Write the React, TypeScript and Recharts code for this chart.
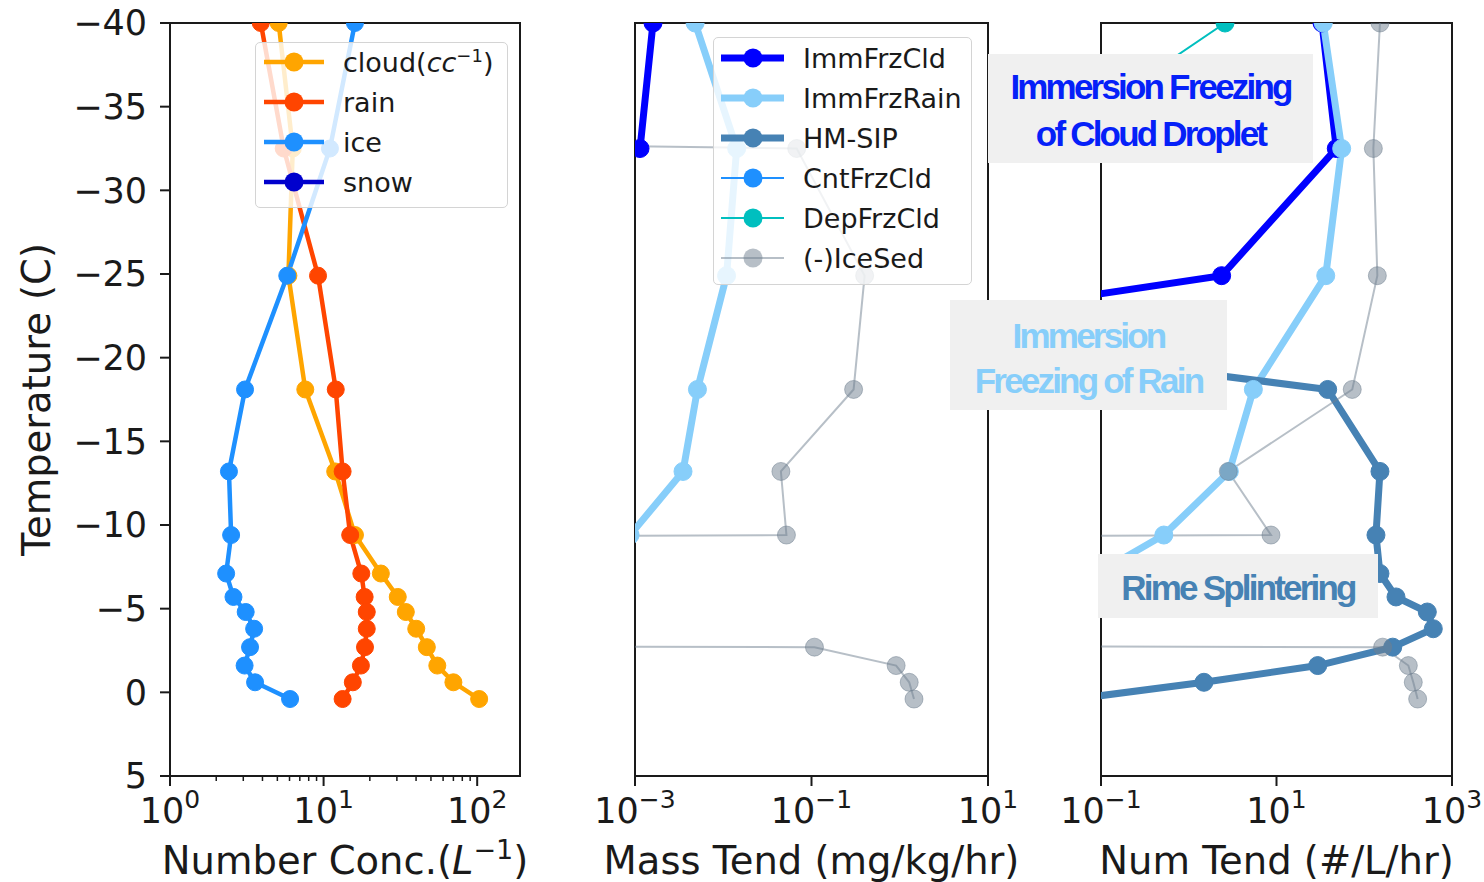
import React from 'react';
import { LineChart, Line, XAxis, YAxis, ReferenceArea } from 'recharts';

// model levels (deg C), top of the column first
const TEMPS = [-40, -32.5, -24.9, -18.1, -13.2, -9.4, -7.1, -5.7, -4.8, -3.8, -2.7, -1.6, -0.6, 0.4];

// panel 1: number concentration (L^-1). 0 means off scale (zero)
const CLOUD = [5.1, 6.3, 5.9, 7.6, 11.9, 16.0, 23.6, 30.4, 34.3, 40.1, 47, 55, 70, 103];
const RAIN = [3.9, 5.5, 9.2, 12.0, 13.3, 14.9, 17.6, 18.5, 19.1, 19.1, 18.6, 17.5, 15.5, 13.3];
const ICE = [16.0, 11.0, 5.8, 3.08, 2.42, 2.5, 2.32, 2.59, 3.11, 3.53, 3.32, 3.06, 3.58, 6.05];
const SNOW = [0, 0, 0, 0, 0, 0, 0, 0, 0, 0, 0, 0, 0, 0];

// panel 2: mass tendency (mg/kg/hr)
const M_IMMFRZCLD = [1.6e-3, 1.14e-3, 0, 0, 0, 0, 0, 0, 0, 0, 0, 0, 0, 0];
const M_IMMFRZRAIN = [4.8e-3, 0.0142, 0.0109, 5.1e-3, 3.5e-3, 8.8e-4, 0, 0, 0, 0, 0, 0, 0, 0];
const M_HMSIP = [0, 0, 0, 0, 0, 0, 0, 0, 0, 0, 0, 0, 0, 0];
const M_CNTFRZCLD = [0, 0, 0, 0, 0, 0, 0, 0, 0, 0, 0, 0, 0, 0];
const M_DEPFRZCLD = [0, 0, 0, 0, 0, 0, 0, 0, 0, 0, 0, 0, 0, 0];
const M_ICESED = [0, 0.068, 0.4, 0.3, 0.045, 0.052, 0, 0, 0, 0, 0.108, 0.91, 1.28, 1.45];

// panel 3: number tendency (#/L/hr)
const N_IMMFRZCLD = [33, 48, 2.37, 5e-9, 0, 0, 0, 0, 0, 0, 0, 0, 0, 0];
const N_IMMFRZRAIN = [34.1, 55.3, 36.4, 5.45, 2.9, 0.52, 0.09, 0, 0, 0, 0, 0, 0, 0];
const N_HMSIP = [0, 0, 2.5e-9, 38.3, 151, 136, 151, 230, 523, 612, 211, 29.5, 1.49, 0.05];
const N_CNTFRZCLD = [0, 0, 0, 0, 0, 0, 0, 0, 0, 0, 0, 0, 0, 0];
const N_DEPFRZCLD = [2.59, 0.02, 0, 0, 0, 0, 0, 0, 0, 0, 0, 0, 0, 0];
const N_ICESED = [151, 127, 141, 73, 2.82, 8.65, 0, 0, 0, 0, 162, 318, 362, 406];

const Y_TICKS = [-40, -35, -30, -25, -20, -15, -10, -5, 0, 5];
const X1_TICKS = [1, 2, 3, 4, 5, 6, 7, 8, 9, 10, 20, 30, 40, 50, 60, 70, 80, 90, 100];
const X2_TICKS = [1e-3, 1e-1, 10];
const X3_TICKS = [0.1, 10, 1000];

// zeros get clipped far off the left edge, like matplotlib's log axis
const FLOOR = 1e-100;
const pos = (v: number) => (v > 0 ? v : FLOOR);

const numData = TEMPS.map((t, i) => ({
  temp: t, cloud: pos(CLOUD[i]), rain: pos(RAIN[i]), ice: pos(ICE[i]), snow: pos(SNOW[i]),
}));
const massData = TEMPS.map((t, i) => ({
  temp: t, immCld: pos(M_IMMFRZCLD[i]), immRain: pos(M_IMMFRZRAIN[i]), hm: pos(M_HMSIP[i]),
  cnt: pos(M_CNTFRZCLD[i]), dep: pos(M_DEPFRZCLD[i]), sed: pos(M_ICESED[i]),
}));
const tendData = TEMPS.map((t, i) => ({
  temp: t, immCld: pos(N_IMMFRZCLD[i]), immRain: pos(N_IMMFRZRAIN[i]), hm: pos(N_HMSIP[i]),
  cnt: pos(N_CNTFRZCLD[i]), dep: pos(N_DEPFRZCLD[i]), sed: pos(N_ICESED[i]),
}));

const INK = '#1a1a1a';
const FONT = '"DejaVu Sans", sans-serif';

const SERIES1 = [
  { key: 'cloud', color: '#FFA500' },
  { key: 'rain', color: '#FF4500' },
  { key: 'ice', color: '#1E90FF' },
  { key: 'snow', color: '#0000CD' },
];
const SERIES2 = [
  { key: 'immCld', color: '#0000FF', w: 7, alpha: 1 },
  { key: 'immRain', color: '#87CEFA', w: 7, alpha: 1 },
  { key: 'hm', color: '#4682B4', w: 7, alpha: 1 },
  { key: 'cnt', color: '#1E90FF', w: 2, alpha: 1 },
  { key: 'dep', color: '#00BFBF', w: 2, alpha: 1 },
  { key: 'sed', color: '#708090', w: 2, alpha: 0.5 },
];

const minus = (n: number) => (n < 0 ? '\u2212' + -n : String(n));

function LogTick(props: any) {
  const { x, y, payload } = props;
  const lg = Math.log10(payload.value);
  const e = Math.round(lg);
  const major = Math.abs(lg - e) < 1e-6;
  return (
    <g>
      <line x1={x} x2={x} y1={y} y2={y + (major ? 10 : 5)} stroke={INK} strokeWidth={major ? 2 : 1.5} />
      {major && (
        <text x={x} y={y + 47} textAnchor="middle" fontSize={35} fill={INK} fontFamily={FONT}>
          10<tspan dy={-15} fontSize={25}>{minus(e)}</tspan>
        </text>
      )}
    </g>
  );
}

function XTitle(props: any) {
  const { viewBox, children } = props;
  return (
    <text x={viewBox.x + viewBox.width / 2} y={viewBox.y + 98} textAnchor="middle" fontSize={38.5} fill={INK} fontFamily={FONT}>
      {children}
    </text>
  );
}

function YTitle(props: any) {
  const { viewBox } = props;
  const cx = viewBox.x + 36;
  const cy = viewBox.y + viewBox.height / 2;
  return (
    <text x={cx} y={cy} transform={`rotate(-90, ${cx}, ${cy})`} textAnchor="middle" dominantBaseline="central" fontSize={38.5} fill={INK} fontFamily={FONT}>
      Temperature (C)
    </text>
  );
}

function LegendBox({ left, top, width, height, pad, lineX, markX, textX, rows }: any) {
  return (
    <div style={{
      position: 'absolute', left, top, width, height, boxSizing: 'border-box', paddingTop: pad,
      background: 'rgba(255,255,255,0.8)', border: '1.5px solid #d4d4d4', borderRadius: 5,
      fontFamily: FONT, fontSize: 27, color: INK,
    }}>
      {rows.map((r: any, i: number) => (
        <div key={i} style={{ position: 'relative', height: 40 }}>
          <svg width={80} height={40} style={{ position: 'absolute', left: 0, top: -1 }}>
            <line x1={lineX[0]} x2={lineX[1]} y1={20} y2={20} stroke={r.color} strokeWidth={r.w} strokeOpacity={r.alpha ?? 1} />
            <circle cx={markX} cy={20} r={9.5} fill={r.color} fillOpacity={r.alpha ?? 1} />
          </svg>
          <div style={{ position: 'absolute', left: textX, top: 0, lineHeight: '40px', whiteSpace: 'nowrap' }}>{r.label}</div>
        </div>
      ))}
    </div>
  );
}

function Note({ left, top, width, height, pad, lh, color, lines }: any) {
  return (
    <div style={{
      position: 'absolute', left, top, width, height, boxSizing: 'border-box', paddingTop: pad,
      background: '#F0F0F0', color, fontFamily: '"Liberation Sans", Arial, sans-serif', fontWeight: 700,
      fontSize: 35, lineHeight: lh + 'px', letterSpacing: -2.8, textAlign: 'center',
    }}>
      {lines.map((l: string, i: number) => <div key={i}>{l}</div>)}
    </div>
  );
}

function Panel({ left, width, margin, data, domain, ticks, series, title, showY, thin }: any) {
  return (
    <div style={{ position: 'absolute', left, top: 0 }}>
      <LineChart width={width} height={882} data={data} layout="vertical" margin={margin} style={{ overflow: 'visible' }}>
        <XAxis
          type="number" scale="log" domain={domain} allowDataOverflow ticks={ticks} interval={0}
          height={106} tickSize={0} tickMargin={0} tickLine={false} axisLine={false} tick={<LogTick />}
          label={<XTitle>{title}</XTitle>}
        />
        <YAxis
          type="number" dataKey="temp" domain={[-40, 5]} allowDataOverflow ticks={Y_TICKS} interval={0}
          hide={!showY} width={170} tickSize={10} tickMargin={13} axisLine={false}
          tickLine={{ stroke: INK, strokeWidth: 2 }} tickFormatter={minus}
          tick={{ fontSize: 35, fill: INK, fontFamily: FONT }}
          label={showY ? <YTitle /> : undefined}
        />
        {series.map((s: any) => (
          <Line
            key={s.key} dataKey={s.key} type="linear" isAnimationActive={false} activeDot={false}
            stroke={s.color} strokeWidth={thin ? 4.5 : s.w} strokeOpacity={s.alpha ?? 1}
            dot={{ r: thin ? 8.5 : 9, fill: s.color, fillOpacity: s.alpha ?? 1, stroke: s.color, strokeOpacity: s.alpha ?? 1, strokeWidth: 1 }}
          />
        ))}
        <ReferenceArea x1={domain[0]} x2={domain[1]} y1={-40} y2={5} fill="none" stroke={INK} strokeWidth={2} ifOverflow="visible" />
      </LineChart>
    </div>
  );
}

export default function App() {
  return (
    <div style={{ position: 'absolute', left: 0, top: 0, width: 1484, height: 882, background: '#fff', fontFamily: FONT, overflow: 'hidden' }}>
      <Panel
        left={0} width={545} margin={{ top: 23, right: 25, bottom: 0, left: 0 }} data={numData}
        domain={[1, 190]} ticks={X1_TICKS} series={SERIES1} showY thin
        title={<>Number Conc.(<tspan fontStyle="italic">L</tspan><tspan dy={-15} fontSize={27}>{'\u22121'}</tspan><tspan dy={15}>)</tspan></>}
      />
      <Panel
        left={560} width={460} margin={{ top: 23, right: 32, bottom: 0, left: 75 }} data={massData}
        domain={[1e-3, 10]} ticks={X2_TICKS} series={SERIES2} title="Mass Tend (mg/kg/hr)"
      />
      <Panel
        left={1030} width={454} margin={{ top: 23, right: 32, bottom: 0, left: 71 }} data={tendData}
        domain={[0.1, 1000]} ticks={X3_TICKS} series={SERIES2} title="Num Tend (#/L/hr)"
      />
      <LegendBox
        left={255} top={42} width={253} height={166} pad={0} lineX={[8, 68]} markX={38} textX={87}
        rows={[
          { color: SERIES1[0].color, w: 4.5, label: <>cloud(<i>cc</i><sup style={{ fontSize: 18, lineHeight: 0 }}>{'\u22121'}</sup>)</> },
          { color: SERIES1[1].color, w: 4.5, label: 'rain' },
          { color: SERIES1[2].color, w: 4.5, label: 'ice' },
          { color: SERIES1[3].color, w: 4.5, label: 'snow' },
        ]}
      />
      <LegendBox
        left={713} top={37} width={259} height={248} pad={1} lineX={[7, 70]} markX={39} textX={89}
        rows={[
          { ...SERIES2[0], label: 'ImmFrzCld' },
          { ...SERIES2[1], label: 'ImmFrzRain' },
          { ...SERIES2[2], label: 'HM-SIP' },
          { ...SERIES2[3], label: 'CntFrzCld' },
          { ...SERIES2[4], label: 'DepFrzCld' },
          { ...SERIES2[5], label: '(-)IceSed' },
        ]}
      />
      <Note left={988} top={54} width={325} height={109} pad={9} lh={47} color="#0520F8" lines={['Immersion Freezing', 'of Cloud Droplet']} />
      <Note left={950} top={300} width={277} height={110} pad={13} lh={45} color="#87CEFA" lines={['Immersion', 'Freezing of Rain']} />
      <Note left={1098} top={554} width={280} height={64} pad={2} lh={64} color="#4682B4" lines={['Rime Splintering']} />
    </div>
  );
}
